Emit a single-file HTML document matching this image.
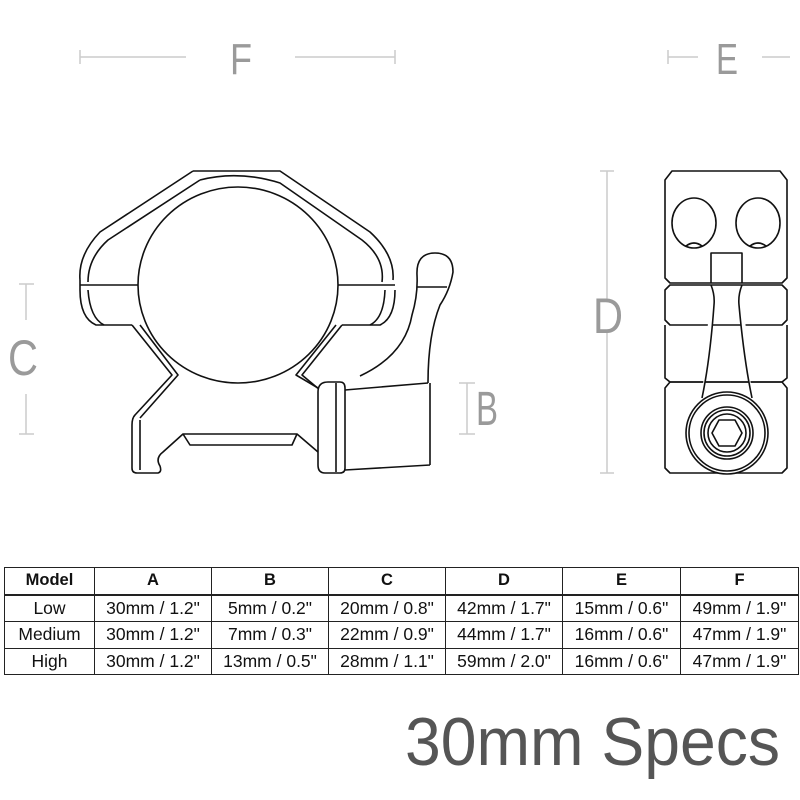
<!DOCTYPE html>
<html><head><meta charset="utf-8"><style>
body{margin:0;background:#fff}
svg{display:block}
table{position:absolute;left:4px;top:567px;border-collapse:collapse;font-family:"Liberation Sans",sans-serif;font-size:17.5px;color:#111;table-layout:fixed;width:794px}
td{border:1.5px solid #222;text-align:center;height:25.5px;padding:0;white-space:nowrap;overflow:hidden}
tr:first-child td{font-weight:bold;border-bottom:2px solid #222;font-size:16.5px}
</style></head><body>
<svg width="800" height="800" viewBox="0 0 800 800" xmlns="http://www.w3.org/2000/svg">
<g stroke="#ccc" stroke-width="1.5" fill="none">
<path d="M80 57H186M80 50V64M295 57H395M395 50V64"/>
<path d="M668 57H698M668 50V64M762 57H790"/>
<path d="M26 284V320M19 284H34M26 394V434M19 434H34"/>
<path d="M607 171V300M600 171H614M607 333V473M600 473H614"/>
<path d="M467 383V434M459 383H475M459 434H475"/>
<path d="M237 195V260M230 195H244M237 320V375M230 375H244"/>
</g>
<g fill="#9a9a9a" font-family="Liberation Sans,sans-serif" font-weight="300">
<text x="230" y="74" font-size="44" textLength="22" lengthAdjust="spacingAndGlyphs">F</text>
<text x="716" y="74" font-size="44" textLength="22" lengthAdjust="spacingAndGlyphs">E</text>
<text x="8" y="375" font-size="50" textLength="30" lengthAdjust="spacingAndGlyphs">C</text>
<text x="593" y="333" font-size="50" textLength="30" lengthAdjust="spacingAndGlyphs">D</text>
<text x="476" y="425" font-size="48" textLength="22" lengthAdjust="spacingAndGlyphs">B</text>
<text x="225" y="314" font-size="38" textLength="24" lengthAdjust="spacingAndGlyphs">A</text>
<text x="229" y="283" font-size="16">ø</text>
</g>
<g stroke="#111" stroke-width="1.6" fill="none" stroke-linejoin="round">
<ellipse cx="238" cy="285" rx="100" ry="98" fill="#fff"/>
<path d="M193 171H280L370 232Q395 255 393 280"/>
<path d="M193 171L100 232Q78 255 80 280"/>
<path d="M200 180Q238 170 280 183L362 240Q385 258 382 282"/>
<path d="M200 180L108 240Q88 258 88 282"/>
<path d="M80 285H138M338 285H395"/>
<path d="M80 280Q80 286 80 290Q80 318 96 325H132"/>
<path d="M88 290Q90 318 104 325"/>
<path d="M395 290Q395 318 380 325H342"/>
<path d="M385 290Q384 318 370 325"/>
<path d="M132 325L172 375L135 415Q132 418 132 425V468Q132 473 137 473H158Q162 472 160 466Q155 458 163 452L183 434H297L318 452"/>
<path d="M140 420V470"/>
<path d="M140 325L178 375L140 418"/>
<path d="M183 434L190 445H292L297 434"/>
<path d="M342 325L302 375L320 390"/>
<path d="M336 325L296 375L318 388"/>
<path d="M318 392Q318 382 328 382H340Q345 382 345 388V468Q345 473 340 473H325Q318 473 318 465Z" fill="#fff"/>
<path d="M336 383V472"/>
<path d="M345 390L428 383M345 470L430 465M430 383V465"/>
<path d="M360 376Q405 355 412 315Q418 295 417 275Q416 253 435 253Q453 253 453 272Q450 290 440 305Q428 335 428 383"/>
<path d="M417 287H447"/>
<path d="M672 171H780L787 180V278L782 283H670L665 278V180Z"/>
<path d="M670 285H782L787 290V320L782 325H670L665 320V290Z"/>
<path d="M665 325V378L670 382H782L787 378V325"/>
<path d="M670 382H782L787 388V468L782 473H670L665 468V388Z"/>
<ellipse cx="694" cy="223" rx="22" ry="25"/>
<ellipse cx="758" cy="223" rx="22" ry="25"/>
<path d="M686 246Q694 240 702 246M750 246Q758 240 766 246"/>
<path d="M711 283V253H742V283"/>
<path d="M711 285Q715 295 714 305Q710 360 702 398M742 285Q738 295 739 305Q744 360 752 398" fill="#fff"/>
<circle cx="727" cy="433" r="41" fill="#fff"/>
<circle cx="727" cy="433" r="38"/>
<circle cx="727" cy="433" r="26"/>
<circle cx="727" cy="433" r="23"/>
<circle cx="727" cy="433" r="19"/>
<path d="M719 420H735L742 433L735 446H719L712 433Z"/>
</g>
<text x="405" y="765" font-family="Liberation Sans,sans-serif" font-weight="300" font-size="68" fill="#555" textLength="375" lengthAdjust="spacingAndGlyphs">30mm Specs</text>
</svg>
<table>
<colgroup><col style="width:90px"><col style="width:117px"><col style="width:117px"><col style="width:117px"><col style="width:117px"><col style="width:118px"><col style="width:118px"></colgroup>
<tr><td>Model</td><td>A</td><td>B</td><td>C</td><td>D</td><td>E</td><td>F</td></tr>
<tr><td>Low</td><td>30mm / 1.2"</td><td>5mm / 0.2"</td><td>20mm / 0.8"</td><td>42mm / 1.7"</td><td>15mm / 0.6"</td><td>49mm / 1.9"</td></tr>
<tr><td>Medium</td><td>30mm / 1.2"</td><td>7mm / 0.3"</td><td>22mm / 0.9"</td><td>44mm / 1.7"</td><td>16mm / 0.6"</td><td>47mm / 1.9"</td></tr>
<tr><td>High</td><td>30mm / 1.2"</td><td>13mm / 0.5"</td><td>28mm / 1.1"</td><td>59mm / 2.0"</td><td>16mm / 0.6"</td><td>47mm / 1.9"</td></tr>
</table>
</body></html>
